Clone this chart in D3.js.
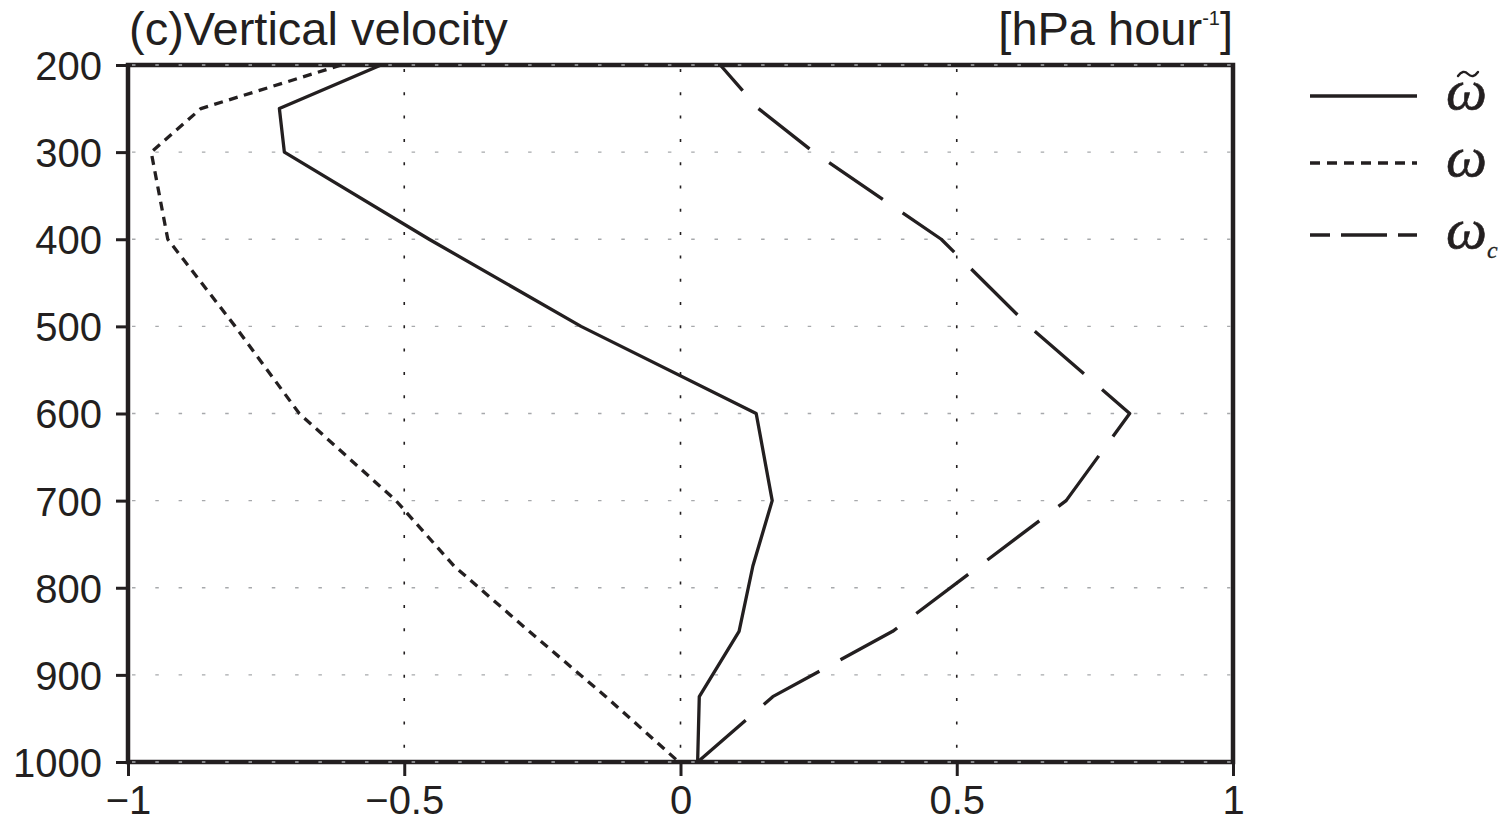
<!DOCTYPE html>
<html>
<head>
<meta charset="utf-8">
<script src="https://cdn.jsdelivr.net/npm/d3@7"></script>
<style>
  body { margin: 0; background: #fff; }
  svg text { font-family: "Liberation Sans", Arial, sans-serif; fill: #231f20; }
</style>
</head>
<body>
<div id="chart"></div>
<script>
// pressure levels (hPa) and the three profiles
const levels = [200, 250, 300, 400, 500, 600, 700, 775, 850, 925, 1000];
const omegaTilde = [-0.542, -0.726, -0.717, -0.455, -0.180, 0.137, 0.166, 0.131, 0.106, 0.034, 0.031];
const omega = [-0.614, -0.868, -0.958, -0.928, -0.806, -0.690, -0.515, -0.410, -0.274, -0.135, -0.003];
const omegaC = [0.072, 0.141, 0.241, 0.472, 0.631, 0.813, 0.698, 0.541, 0.384, 0.167, 0.031];

const xTicks = [-1, -0.5, 0, 0.5, 1];
const xTickLabels = ['\u22121', '\u22120.5', '0', '0.5', '1'];
const yTicks = [200, 300, 400, 500, 600, 700, 800, 900, 1000];

const width = 1499, height = 823;
const margin = { top: 65, right: 266, bottom: 61, left: 128 };
const ink = '#231f20';

const svg = d3.select('#chart').append('svg')
    .attr('width', width)
    .attr('height', height);

const x = d3.scaleLinear().domain([-1, 1]).range([margin.left, width - margin.right]);
const y = d3.scaleLinear().domain([200, 1000]).range([margin.top, height - margin.bottom]);

// axes box
const axisW = 4.5;
svg.append('rect')
    .attr('x', x(-1)).attr('y', y(200))
    .attr('width', x(1) - x(-1)).attr('height', y(1000) - y(200))
    .attr('fill', 'none')
    .attr('stroke', ink)
    .attr('stroke-width', axisW);

// grid: black dots at x = -0.5, 0, 0.5, grey dashes along pressure levels
svg.append('g').selectAll('.vgrid')
    .data([-0.5, 0, 0.5])
    .join('line')
    .attr('x1', d => x(d)).attr('x2', d => x(d))
    .attr('y1', y(200) + 4).attr('y2', y(1000))
    .attr('stroke', ink)
    .attr('stroke-width', 1.6)
    .attr('stroke-dasharray', '3,20.3');

svg.append('g').selectAll('.hgrid')
    .data(yTicks)
    .join('line')
    .attr('x1', x(-1) + 4).attr('x2', x(1))
    .attr('y1', d => y(d)).attr('y2', d => y(d))
    .attr('stroke', '#a7a9ac')
    .attr('stroke-width', 1.4)
    .attr('stroke-dasharray', '3.5,19.8');

// left axis ticks + labels
const yAxis = d3.axisLeft(y)
    .tickValues(yTicks)
    .tickSize(12)
    .tickPadding(14)
    .tickFormat(d3.format('d'));
const gy = svg.append('g')
    .attr('transform', `translate(${x(-1)},0)`)
    .call(yAxis);
gy.select('.domain').remove();
gy.selectAll('.tick line').attr('stroke', ink).attr('stroke-width', 3);
gy.selectAll('.tick text')
    .attr('font-size', 40)
    .attr('dy', '0.36em')
    .style('font-family', '"Liberation Sans", Arial, sans-serif')
    .attr('fill', ink);

// bottom axis ticks + labels
const xAxis = d3.axisBottom(x)
    .tickValues(xTicks)
    .tickSize(14)
    .tickPadding(10)
    .tickFormat((d, i) => xTickLabels[i]);
const gx = svg.append('g')
    .attr('transform', `translate(0,${y(1000)})`)
    .call(xAxis);
gx.select('.domain').remove();
gx.selectAll('.tick line').attr('stroke', ink).attr('stroke-width', 3);
gx.selectAll('.tick text')
    .attr('font-size', 40)
    .style('font-family', '"Liberation Sans", Arial, sans-serif')
    .attr('fill', ink);

// profiles
const series = [
    { name: 'tilde', values: omegaTilde, dash: null, offset: 0 },
    { name: 'omega', values: omega, dash: '9,6.5', offset: 0 },
    { name: 'omegaC', values: omegaC, dash: '65,24', offset: 31 }
];

const line = d3.line()
    .x(d => x(d[0]))
    .y(d => y(d[1]));

svg.append('g').selectAll('.profile')
    .data(series)
    .join('path')
    .attr('class', 'profile')
    .attr('d', s => line(s.values.map((v, i) => [v, levels[i]])))
    .attr('fill', 'none')
    .attr('stroke', ink)
    .attr('stroke-width', 3.3)
    .attr('stroke-linejoin', 'round')
    .attr('stroke-dasharray', s => s.dash)
    .attr('stroke-dashoffset', s => s.offset);

// title and units
svg.append('text')
    .attr('x', x(-1) + 1)
    .attr('y', 45)
    .attr('font-size', 47)
    .text('(c)Vertical velocity');

const units = svg.append('text')
    .attr('x', x(1))
    .attr('y', 45)
    .attr('text-anchor', 'end')
    .attr('font-size', 47);
units.append('tspan').text('[hPa hour');
units.append('tspan').attr('font-size', 20).attr('dy', -20).text('-1');
units.append('tspan').attr('dy', 20).text(']');

// legend
const legendItems = [
    { label: '\u03c9', tilde: true, sub: null, dash: null, offset: 0, y: 96 },
    { label: '\u03c9', tilde: false, sub: null, dash: '10,7', offset: 0, y: 163 },
    { label: '\u03c9', tilde: false, sub: 'c', dash: '46,11', offset: 26, y: 235 }
];
const legend = svg.append('g');
legendItems.forEach(it => {
    legend.append('line')
        .attr('x1', 1310).attr('x2', 1417)
        .attr('y1', it.y).attr('y2', it.y)
        .attr('stroke', ink)
        .attr('stroke-width', 3.5)
        .attr('stroke-dasharray', it.dash)
        .attr('stroke-dashoffset', it.offset);
    const t = legend.append('text')
        .attr('x', 1446)
        .attr('y', it.y + 13)
        .attr('font-size', 58)
        .attr('font-style', 'italic')
        .attr('stroke', ink)
        .attr('stroke-width', 0.6)
        .style('font-family', '"Liberation Serif", "Times New Roman", serif');
    t.append('tspan').text(it.label);
    if (it.sub) {
        t.append('tspan').attr('font-size', 24).attr('dy', 10).attr('stroke-width', 0.3).text(it.sub);
    }
    if (it.tilde) {
        // tilde accent over the omega
        legend.append('path')
            .attr('d', `M1458,${it.y - 20} q5,-7 10,-2 t10,-2`)
            .attr('fill', 'none')
            .attr('stroke', ink)
            .attr('stroke-width', 2.4)
            .attr('stroke-linecap', 'round');
    }
});
</script>
</body>
</html>
